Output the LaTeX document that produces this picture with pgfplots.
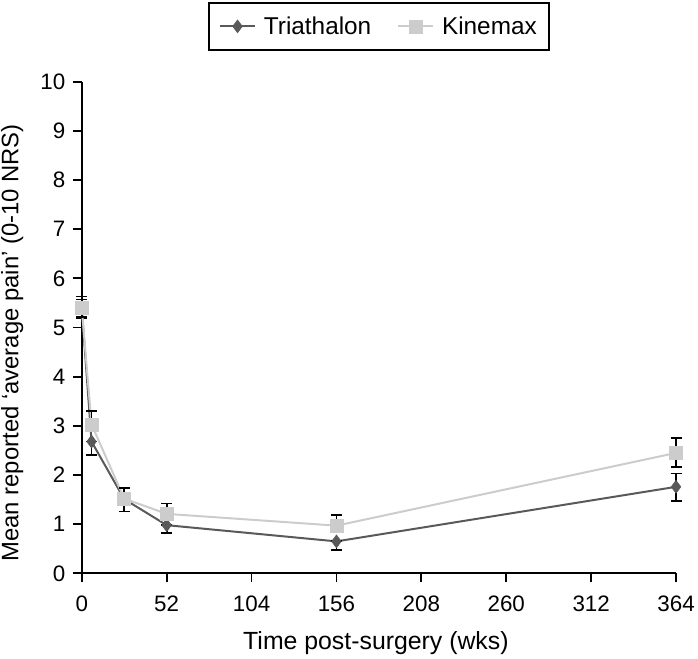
\documentclass[border=0pt]{standalone}
\usepackage{pgfplots}
\pgfplotsset{compat=1.18}
\usepackage{fontspec}
\setmainfont{Liberation Sans}
\definecolor{tri}{HTML}{595959}
\definecolor{kin}{HTML}{CCCCCC}
\begin{document}
\begin{tikzpicture}[font=\fontsize{25}{29}\selectfont]
\begin{axis}[
  scale only axis, width=596bp, height=493bp,
  xmin=0, xmax=364, ymin=0, ymax=10,
  axis x line=bottom, axis y line=left,
  axis line style={-, line width=1.8bp, black},
  xtick={0,52,104,156,208,260,312,364}, ytick={0,1,2,3,4,5,6,7,8,9,10},
  tick align=outside, major tick length=9bp,
  tick style={line width=1.8bp, black},
  /pgf/number format/assume math mode=true,
  tick label style={font=\fontsize{22.5}{26}\selectfont},
  xticklabel style={yshift=-10bp},
  yticklabel style={xshift=-4bp},
  every axis x label/.style={at={(rel axis cs:0.495,0)}, yshift=-58bp, anchor=north, inner sep=0pt},
  every axis y label/.style={at={(rel axis cs:0,0.469)}, xshift=-81bp, rotate=90, anchor=north, inner sep=0pt, font=\fontsize{24}{28}\selectfont},
  xlabel={Time post-surgery (wks)},
  ylabel={Mean reported ‘average pain’ (0-10 NRS)},
  clip=false,
  legend columns=2,
  legend cell align=left,
  legend style={at={(0.5,1.063)}, anchor=south, draw=black, line width=1.8bp,
    font=\fontsize{24.5}{28}\selectfont,
    /tikz/every odd column/.append style={column sep=6bp},
    /tikz/every even column/.append style={column sep=24bp},
    inner xsep=10bp, inner ysep=12bp},
  legend image code/.code={\draw[mark repeat=2,mark phase=2] plot coordinates {(0bp,0bp) (17.5bp,0bp) (35bp,0bp)};},
]
\addplot[tri, line width=2bp, mark=diamond*, mark size=6.5bp,
  mark options={fill=tri, draw=tri, line width=0.5bp},
  error bars/.cd, y dir=both, y explicit,
  error bar style={black, line width=1.8bp},
  error mark options={black, rotate=90, mark size=5.5bp, line width=1.8bp}]
coordinates {
 (0,5.40) += (0,0.23) -= (0,0.20)
 (6,2.68) += (0,0) -= (0,0.27)
 (26,1.51) += (0,0) -= (0,0.25)
 (52,0.98) += (0,0) -= (0,0.16)
 (156,0.65) += (0,0) -= (0,0.17)
 (364,1.76) += (0,0.27) -= (0,0.29)
};
\addlegendentry{Triathalon}
\addplot[kin, line width=2bp, mark=square*, mark size=6.5bp,
  mark options={fill=kin, draw=kin, line width=0.5bp},
  error bars/.cd, y dir=both, y explicit,
  error bar style={black, line width=1.8bp},
  error mark options={black, rotate=90, mark size=5.5bp, line width=1.8bp}]
coordinates {
 (0,5.40) += (0,0.17) -= (0,0.19)
 (6,3.03) += (0,0.28) -= (0,0)
 (26,1.52) += (0,0.22) -= (0,0)
 (52,1.21) += (0,0.21) -= (0,0)
 (156,0.97) += (0,0.21) -= (0,0)
 (364,2.45) += (0,0.31) -= (0,0.28)
};
\addlegendentry{Kinemax}
\path (rel axis cs:0,0) ++(-82bp,-85bp) (rel axis cs:1,1) ++(20bp,82bp);
\end{axis}
\end{tikzpicture}
\end{document}
